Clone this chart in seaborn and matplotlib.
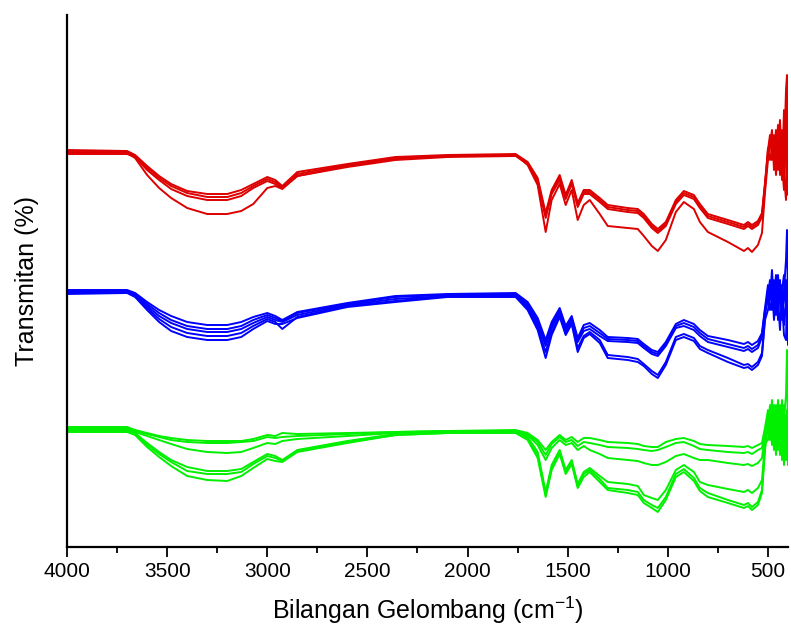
import pandas as pd
import matplotlib
matplotlib.use("Agg")
import matplotlib.pyplot as plt
import seaborn as sns

# wavenumber grid (cm-1); last 12 points are the noisy tail
wavenumber = [4000, 3700, 3660, 3600, 3540, 3480, 3400, 3300, 3200, 3130, 3070, 3000,
              2960, 2925, 2850, 2600, 2360, 2100, 1760, 1700, 1650, 1610, 1580, 1540,
              1510, 1480, 1450, 1420, 1390, 1340, 1300, 1200, 1150, 1120, 1080, 1050,
              1010, 960, 920, 870, 840, 800, 700, 620, 600, 580, 550, 530, 515,
              500, 490, 480, 470, 460, 450, 440, 430, 420, 410, 405, 400]

# transmittance (stacked, arbitrary offset units)
red_1 = [398, 397, 393, 382, 372, 364, 357, 354, 354, 358, 364, 371,
         368, 362, 376, 384, 391, 393, 394, 386, 370, 335, 358, 373,
         353, 368, 345, 358, 358, 350, 343, 340, 339, 334, 324, 319,
         326, 348, 357, 353, 344, 334, 328, 323, 326, 323, 327, 335, 365,
         398, 413, 388, 408, 383, 423, 373, 418, 388, 458, 473, 398]
red_2 = [396, 396, 392, 380, 370, 362, 355, 351, 351, 355, 362, 369,
         366, 361, 374, 383, 390, 392, 393, 385, 368, 332, 356, 371,
         351, 366, 343, 356, 356, 348, 341, 338, 337, 332, 322, 317,
         324, 346, 355, 351, 342, 332, 326, 321, 324, 321, 325, 333, 363,
         393, 403, 418, 378, 408, 388, 413, 368, 438, 398, 363, 428]
red_3 = [394, 394, 391, 378, 368, 359, 352, 348, 348, 352, 360, 367,
         364, 360, 372, 381, 388, 391, 392, 384, 366, 330, 354, 368,
         349, 364, 341, 354, 354, 346, 339, 336, 335, 330, 320, 315,
         322, 344, 353, 349, 340, 330, 324, 319, 322, 319, 323, 331, 361,
         400, 388, 398, 413, 373, 403, 428, 383, 358, 418, 438, 353]
red_4 = [395, 395, 390, 373, 360, 350, 340, 334, 334, 337, 344, 360,
         362, 359, 372, 382, 389, 392, 393, 383, 363, 316, 348, 364,
         343, 358, 328, 343, 348, 334, 322, 320, 319, 312, 302, 297,
         308, 336, 346, 339, 326, 316, 306, 297, 300, 296, 303, 315, 355,
         388, 408, 403, 393, 418, 378, 398, 408, 373, 348, 408, 388]

blue_1 = [258, 258, 255, 246, 238, 232, 226, 223, 223, 226, 231, 235,
          232, 228, 236, 245, 252, 254, 255, 246, 230, 208, 226, 240,
          222, 232, 210, 223, 225, 218, 211, 210, 209, 204, 198, 196,
          206, 224, 228, 224, 218, 212, 208, 204, 206, 203, 207, 215, 240,
          263, 248, 278, 243, 263, 238, 268, 228, 258, 288, 318, 248]
blue_2 = [257, 257, 254, 244, 235, 228, 222, 219, 219, 222, 228, 233,
          230, 227, 235, 244, 251, 253, 254, 244, 227, 205, 223, 238,
          220, 230, 208, 220, 222, 215, 209, 208, 207, 202, 196, 194,
          204, 222, 225, 221, 215, 209, 204, 200, 202, 199, 203, 213, 238,
          253, 268, 238, 258, 233, 273, 248, 263, 223, 248, 228, 278]
blue_3 = [256, 256, 253, 242, 232, 225, 219, 216, 216, 219, 225, 231,
          228, 226, 233, 243, 249, 252, 253, 242, 224, 202, 220, 236,
          218, 228, 206, 217, 219, 212, 207, 206, 205, 200, 194, 192,
          202, 220, 222, 218, 212, 206, 201, 197, 199, 196, 200, 211, 236,
          248, 258, 263, 228, 253, 248, 218, 258, 273, 238, 258, 203]
blue_4 = [255, 256, 252, 240, 229, 221, 215, 212, 212, 215, 222, 229,
          226, 219, 231, 242, 247, 252, 252, 240, 221, 196, 216, 233,
          215, 226, 200, 212, 216, 208, 193, 191, 189, 184, 177, 173,
          186, 211, 214, 210, 202, 198, 190, 183, 184, 181, 186, 195, 230,
          258, 238, 248, 268, 243, 258, 253, 238, 248, 268, 208, 238]
blue_5 = [254, 255, 251, 238, 226, 217, 211, 208, 208, 211, 219, 227,
          224, 224, 230, 241, 246, 251, 251, 238, 218, 190, 213, 231,
          213, 224, 196, 210, 214, 205, 190, 188, 186, 182, 174, 170,
          183, 208, 211, 207, 199, 195, 186, 180, 181, 178, 183, 192, 228,
          238, 253, 258, 248, 273, 228, 263, 248, 213, 208, 248, 258]

green_1 = [121, 121, 118, 115, 112, 110, 108, 107, 107, 107, 109, 113,
           112, 115, 114, 115, 116, 117, 118, 115, 108, 98, 106, 113,
           108, 111, 106, 110, 110, 108, 106, 105, 104, 102, 101, 101,
           106, 109, 110, 107, 104, 103, 102, 101, 102, 100, 103, 105, 120,
           138, 123, 148, 108, 133, 118, 143, 103, 128, 153, 198, 118]
green_2 = [120, 120, 117, 114, 111, 108, 106, 105, 105, 106, 107, 111,
           110, 111, 112, 114, 116, 117, 117, 114, 106, 93, 104, 111,
           106, 108, 102, 106, 105, 103, 101, 100, 99, 98, 97, 98,
           101, 105, 106, 102, 99, 98, 96, 95, 96, 94, 98, 100, 118,
           118, 143, 113, 133, 103, 148, 108, 138, 98, 118, 103, 148]
green_3 = [118, 118, 116, 112, 108, 104, 99, 96, 95, 96, 100, 105,
           104, 107, 109, 112, 115, 116, 116, 113, 103, 88, 100, 108,
           103, 105, 98, 102, 98, 94, 90, 88, 87, 85, 83, 83,
           86, 92, 94, 90, 88, 88, 85, 83, 84, 82, 85, 90, 115,
           128, 108, 133, 118, 143, 98, 128, 113, 143, 88, 128, 108]
green_4 = [119, 119, 115, 105, 96, 88, 81, 77, 77, 79, 86, 94,
           92, 88, 98, 107, 114, 116, 117, 111, 96, 56, 83, 98,
           78, 88, 64, 76, 80, 72, 66, 64, 62, 53, 50, 48,
           58, 78, 83, 76, 66, 63, 59, 56, 58, 55, 60, 68, 105,
           108, 133, 103, 143, 113, 128, 93, 148, 108, 133, 88, 128]
green_5 = [117, 117, 114, 103, 94, 86, 77, 74, 74, 76, 84, 92,
           90, 87, 97, 106, 113, 115, 116, 110, 93, 53, 80, 96,
           76, 86, 62, 74, 78, 69, 60, 58, 56, 48, 43, 40,
           51, 74, 79, 70, 60, 55, 48, 43, 45, 41, 46, 58, 100,
           133, 113, 128, 98, 128, 108, 138, 88, 123, 103, 138, 83]
green_6 = [116, 116, 113, 101, 91, 82, 72, 68, 67, 72, 80, 89,
           87, 86, 96, 105, 113, 115, 115, 108, 90, 51, 78, 94,
           74, 84, 60, 71, 76, 66, 58, 55, 53, 45, 40, 36,
           48, 71, 76, 67, 57, 51, 45, 40, 42, 38, 43, 55, 98,
           123, 138, 118, 128, 93, 138, 113, 123, 83, 128, 113, 98]

traces = {
    "red_1": red_1, "red_2": red_2, "red_3": red_3, "red_4": red_4,
    "blue_1": blue_1, "blue_2": blue_2, "blue_3": blue_3, "blue_4": blue_4, "blue_5": blue_5,
    "green_1": green_1, "green_2": green_2, "green_3": green_3,
    "green_4": green_4, "green_5": green_5, "green_6": green_6,
}
colors = {"red": "#DD0000", "blue": "#0000FF", "green": "#00F000"}

rows = []
for name, values in traces.items():
    for w, t in zip(wavenumber, values):
        rows.append({"wavenumber": w, "transmittance": t,
                     "trace": name, "group": name.split("_")[0]})
df = pd.DataFrame(rows)

sns.set_style("ticks")
plt.rcParams["font.family"] = ["Liberation Sans", "DejaVu Sans"]
plt.rcParams["mathtext.fontset"] = "custom"
plt.rcParams["mathtext.rm"] = "Liberation Sans"
plt.rcParams["mathtext.it"] = "Liberation Sans:italic"
plt.rcParams["text.color"] = "black"
plt.rcParams["axes.labelcolor"] = "black"
plt.rcParams["xtick.color"] = "black"

fig = plt.figure(figsize=(7.91, 6.32), dpi=100)
ax = fig.add_axes([67 / 791, 85 / 632, (788 - 67) / 791, (547 - 15) / 632])

sns.lineplot(data=df, x="wavenumber", y="transmittance", hue="group", units="trace",
             estimator=None, sort=False, palette=colors, legend=False, lw=1.4, ax=ax)

ax.set_xlim(4000, 400)
ax.set_ylim(1, 533)
ax.set_yticks([])
ax.set_xticks(range(500, 4001, 500))
ax.set_xticks(range(750, 4000, 500), minor=True)
ax.tick_params(axis="x", which="major", length=7, width=1.3, labelsize=15,
               color="black", labelcolor="black")
ax.tick_params(axis="x", which="minor", length=4, width=1.3, color="black")

for side in ["top", "right"]:
    ax.spines[side].set_visible(False)
for side in ["left", "bottom"]:
    ax.spines[side].set_linewidth(1.6)
    ax.spines[side].set_color("black")

ax.set_xlabel("Bilangan Gelombang (cm$^{-1}$)", fontsize=18, labelpad=10, color="black")
ax.set_ylabel("Transmitan (%)", fontsize=18, labelpad=20, color="black")

fig.savefig("out.png", dpi=100)
